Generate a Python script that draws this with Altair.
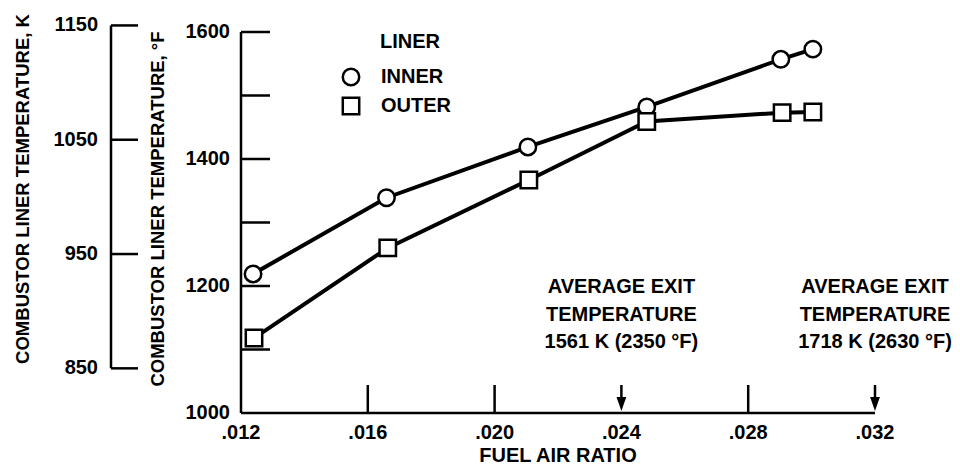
import altair as alt
import pandas as pd

# ---------------- data ----------------
series_names = ["INNER", "OUTER"]
inner_fuel_air = [0.01238, 0.01659, 0.02105, 0.02480, 0.02903, 0.03004]
inner_temp_f = [1219, 1339, 1419, 1482, 1557, 1573]
outer_fuel_air = [0.01241, 0.01663, 0.02108, 0.02480, 0.02907, 0.03004]
outer_temp_f = [1118, 1260, 1367, 1459, 1473, 1474]

f_tick_values = [1100, 1200, 1300, 1400, 1500, 1600]
f_label_values = [1000, 1200, 1400, 1600]
k_tick_values = [850, 950, 1050, 1150]
x_tick_values = [0.016, 0.020, 0.028]
x_label_values = [0.012, 0.016, 0.020, 0.024, 0.028, 0.032]
x_label_texts = [".012", ".016", ".020", ".024", ".028", ".032"]
exit_fuel_air = [0.024, 0.032]
exit_notes = [
    "AVERAGE EXIT\nTEMPERATURE\n1561 K (2350 °F)",
    "AVERAGE EXIT\nTEMPERATURE\n1718 K (2630 °F)",
]
x_domain = [0.012, 0.032]
y_domain = [1000, 1600]

FONT = "Liberation Sans, Arial, sans-serif"
FS = 20
FW = "bold"
AX = 2.5
ARROW_HEAD = "M-0.7,-1L0.7,-1L0,1Z"

# ---------------- tables ----------------
df = pd.concat([
    pd.DataFrame({"series": series_names[0], "fa": inner_fuel_air, "t": inner_temp_f}),
    pd.DataFrame({"series": series_names[1], "fa": outer_fuel_air, "t": outer_temp_f}),
])
df_ft = pd.DataFrame({"f": f_tick_values})
df_fl = pd.DataFrame({"f": f_label_values, "lab": [str(v) for v in f_label_values]})
df_k = pd.DataFrame({"k": k_tick_values})
df_k["f"] = df_k["k"] * 9 / 5 - 459.67
df_k["lab"] = df_k["k"].astype(str)
df_kline = pd.DataFrame({"f1": [df_k["f"].min()], "f2": [df_k["f"].max()]})
df_yaxis = pd.DataFrame({"f1": [y_domain[0]], "f2": [y_domain[1]]})
df_xaxis = pd.DataFrame({"a1": [x_domain[0]], "a2": [x_domain[1]]})
df_xt = pd.DataFrame({"fa": x_tick_values})
df_xl = pd.DataFrame({"fa": x_label_values, "lab": x_label_texts})
df_exit = pd.DataFrame({"fa": exit_fuel_air, "note": exit_notes})
df_one = pd.DataFrame({"a": [0]})

xs = alt.Scale(domain=x_domain, nice=False, zero=False)
ys = alt.Scale(domain=y_domain, nice=False, zero=False)


def X(f):
    return alt.X(f, scale=xs, axis=None)


def Y(f):
    return alt.Y(f, scale=ys, axis=None)


def txt(data, size=FS, **kw):
    return alt.Chart(data).mark_text(font=FONT, fontSize=size, fontWeight=FW, baseline="middle",
                                     color="black", **kw)


layers = []

# axis lines
layers.append(alt.Chart(df_yaxis).mark_rule(color="black", strokeWidth=AX).encode(
    x=alt.value(0), y=Y("f1:Q"), y2="f2:Q"))
layers.append(alt.Chart(df_xaxis).mark_rule(color="black", strokeWidth=AX).encode(
    x=X("a1:Q"), x2="a2:Q", y=alt.value(381)))
# F ticks (inward)
layers.append(alt.Chart(df_ft).mark_rule(color="black", strokeWidth=AX).encode(
    x=alt.value(0), x2=alt.value(29), y=Y("f:Q")))
# F labels
layers.append(txt(df_fl, align="right").encode(x=alt.value(-11), y=Y("f:Q"), text="lab:N"))
# K axis
layers.append(alt.Chart(df_kline).mark_rule(color="black", strokeWidth=AX).encode(
    x=alt.value(-130), y=Y("f1:Q"), y2="f2:Q"))
layers.append(alt.Chart(df_k).mark_rule(color="black", strokeWidth=AX).encode(
    x=alt.value(-130), x2=alt.value(-103), y=Y("f:Q")))
layers.append(txt(df_k, align="right").encode(x=alt.value(-143), y=Y("f:Q"), text="lab:N"))
# axis titles
layers.append(txt(df_one, size=18.5, align="center", angle=270, text="COMBUSTOR LINER TEMPERATURE, K").encode(
    x=alt.value(-218), y=alt.value(157)))
layers.append(txt(df_one, size=18.5, align="center", angle=270, text="COMBUSTOR LINER TEMPERATURE, °F").encode(
    x=alt.value(-83), y=alt.value(177)))
# x ticks (upward)
layers.append(alt.Chart(df_xt).mark_rule(color="black", strokeWidth=AX).encode(
    x=X("fa:Q"), y=alt.value(353), y2=alt.value(381)))
# x labels and title
layers.append(txt(df_xl, align="center").encode(x=X("fa:Q"), y=alt.value(401), text="lab:N"))
layers.append(txt(df_one, align="center", text="FUEL AIR RATIO").encode(x=alt.value(317), y=alt.value(424)))
# exit temperature arrows and notes
layers.append(alt.Chart(df_exit).mark_rule(color="black", strokeWidth=AX).encode(
    x=X("fa:Q"), y=alt.value(353), y2=alt.value(370)))
layers.append(alt.Chart(df_exit).mark_point(shape=ARROW_HEAD, filled=True, color="black", size=196, opacity=1).encode(
    x=X("fa:Q"), y=alt.value(372)))
layers.append(txt(df_exit, align="center", lineBreak="\n", lineHeight=27.5).encode(
    x=X("fa:Q"), y=alt.value(255), text="note:N"))

# data lines and markers
layers.append(alt.Chart(df).mark_line(color="black", strokeWidth=4).encode(
    x=X("fa:Q"), y=Y("t:Q"), detail="series:N"))
shape_scale = alt.Scale(domain=series_names, range=["circle", "square"])
layers.append(alt.Chart(df).mark_point(filled=True, fill="white", stroke="black", strokeWidth=2.5, size=270, opacity=1).encode(
    x=X("fa:Q"), y=Y("t:Q"), shape=alt.Shape("series:N", scale=shape_scale, legend=None)))

# legend
layers.append(txt(df_one, align="center", text="LINER").encode(x=alt.value(169), y=alt.value(10)))
for i, (name, shp) in enumerate(zip(series_names, ["circle", "square"])):
    yy = 45 + i * 29
    d = pd.DataFrame({"series": [name]})
    layers.append(alt.Chart(d).mark_point(shape=shp, filled=True, fill="white", stroke="black", strokeWidth=2.5,
                                          size=270, opacity=1).encode(x=alt.value(110), y=alt.value(yy)))
    layers.append(txt(d, align="left").encode(x=alt.value(140), y=alt.value(yy), text="series:N"))

chart = alt.layer(*layers).properties(
    width=634, height=381,
    padding={"left": 233, "top": 24, "right": 77, "bottom": 52},
    autosize=alt.AutoSizeParams(type="none"),
    background="white",
).configure_view(stroke=None)

chart.save("out.html", embed_options={"renderer": "svg", "actions": False})
